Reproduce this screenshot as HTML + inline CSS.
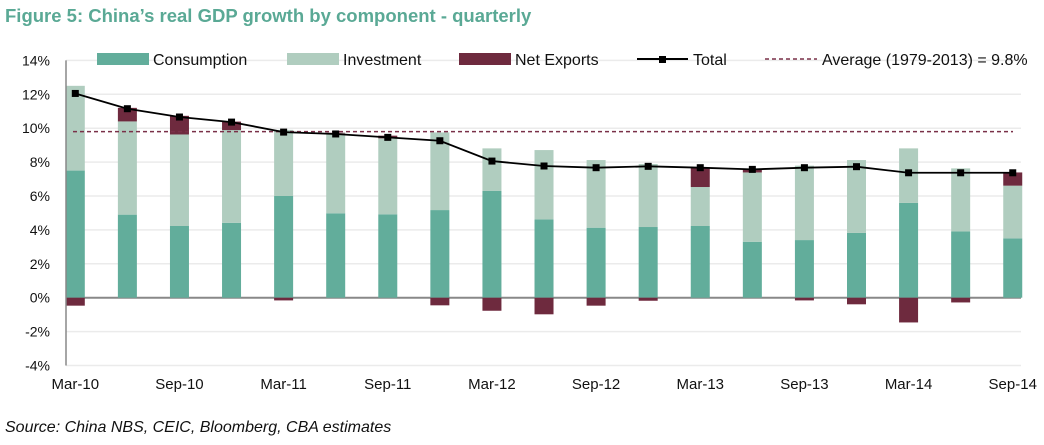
<!DOCTYPE html>
<html><head><meta charset="utf-8"><style>
body{margin:0;background:#fff;width:1044px;height:440px;overflow:hidden;font-family:"Liberation Sans",sans-serif}
</style></head><body>
<svg width="1044" height="440" font-family="Liberation Sans, sans-serif">
<text x="5" y="22" font-size="18.5" font-weight="bold" fill="#5aa995">Figure 5: China’s real GDP growth by component - quarterly</text>
<g id="grid"></g><g id="bars"></g><g id="lines"></g><g id="axes"></g>
<g font-size="16" fill="#111">
<rect x="97" y="53" width="52" height="12" fill="#62ad9b"/>
<text x="153" y="65">Consumption</text>
<rect x="287" y="53" width="52" height="12" fill="#b0cdbf"/>
<text x="343" y="65">Investment</text>
<rect x="459" y="53" width="52" height="12" fill="#6e2a3e"/>
<text x="515" y="65">Net Exports</text>
<line x1="637" y1="59" x2="688" y2="59" stroke="#000" stroke-width="2"/>
<rect x="659" y="56" width="7" height="7" fill="#000"/>
<text x="693" y="65">Total</text>
<line x1="765" y1="59" x2="817" y2="59" stroke="#7a3048" stroke-width="1.5" stroke-dasharray="4,3"/>
<text x="822" y="65">Average (1979-2013) = 9.8%</text>
</g>
<text x="5" y="432" font-size="16" font-style="italic" fill="#111">Source: China NBS, CEIC, Bloomberg, CBA estimates</text>
</svg>
<script>
const categories=["Mar-10","Jun-10","Sep-10","Dec-10","Mar-11","Jun-11","Sep-11","Dec-11","Mar-12","Jun-12","Sep-12","Dec-12","Mar-13","Jun-13","Sep-13","Dec-13","Mar-14","Jun-14","Sep-14"];
const consumption=[7.5,4.9,4.23,4.42,6.0,4.98,4.92,5.17,6.31,4.62,4.13,4.17,4.23,3.3,3.4,3.82,5.59,3.91,3.5];
const investment=[5.0,5.5,5.4,5.47,3.9,4.72,4.48,4.58,2.5,4.09,3.99,3.72,2.3,4.09,4.39,4.3,3.22,3.72,3.11];
const netExports=[-0.47,0.8,1.1,0.5,-0.16,0.03,0.16,-0.45,-0.77,-0.98,-0.47,-0.18,1.16,0.18,-0.16,-0.39,-1.46,-0.28,0.78];
const total=[12.05,11.15,10.66,10.36,9.77,9.66,9.46,9.26,8.06,7.77,7.67,7.75,7.67,7.57,7.67,7.73,7.37,7.37,7.37];
const average=9.8;
const yTicks=[14,12,10,8,6,4,2,0,-2,-4];
const NS="http://www.w3.org/2000/svg";
const y=v=>297.7-v*16.95;
const x=i=>75.3+i*52.08;
const BW=19;
function mk(t,a,p){const e=document.createElementNS(NS,t);for(const k in a)e.setAttribute(k,a[k]);document.getElementById(p).appendChild(e);return e;}
yTicks.forEach(t=>{
  const g=mk('line',{x1:66,x2:1021,y1:y(t),y2:y(t),stroke:t===0?'#888':'#ebebeb','stroke-width':t===0?2:1.5},'grid');
  
  
  const l=mk('text',{x:50,y:y(t)+5,'text-anchor':'end','font-size':14,fill:'#111'},'axes');
  l.textContent=t+'%';
  
  
});
const ax=mk('line',{x1:66,x2:66,y1:y(14),y2:y(-4),stroke:'#888','stroke-width':1.5},'axes');


categories.forEach((c,i)=>{
  const cx=x(i);
  const r1=mk('rect',{x:cx-BW/2,y:y(consumption[i]),width:BW,height:y(0)-y(consumption[i]),fill:'#62ad9b'},'bars');
  
  
  const top=consumption[i]+investment[i];
  const r2=mk('rect',{x:cx-BW/2,y:y(top),width:BW,height:y(consumption[i])-y(top),fill:'#b0cdbf'},'bars');
  
  
  const n=netExports[i];
  const ny0=n>=0?y(top+n):y(0);
  const r3=mk('rect',{x:cx-BW/2,y:ny0,width:BW,height:Math.abs(n)*16.95,fill:'#6e2a3e'},'bars');
  
  
  if(i%2===0){
    const t=mk('text',{x:cx,y:389,'text-anchor':'middle','font-size':15,fill:'#111'},'axes');
    t.textContent=c;
    
    
  }
});
const av=mk('line',{x1:73,x2:1013,y1:y(average),y2:y(average),stroke:'#7a3048','stroke-width':1.5,'stroke-dasharray':'4,3'},'lines');


const pl=mk('polyline',{points:total.map((v,i)=>x(i)+','+y(v)).join(' '),fill:'none',stroke:'#000','stroke-width':1.8},'lines');


total.forEach((v,i)=>{
  const m=mk('rect',{x:x(i)-3.5,y:y(v)-3.5,width:7,height:7,fill:'#000'},'lines');
  
  
});
</script>
</body></html>
